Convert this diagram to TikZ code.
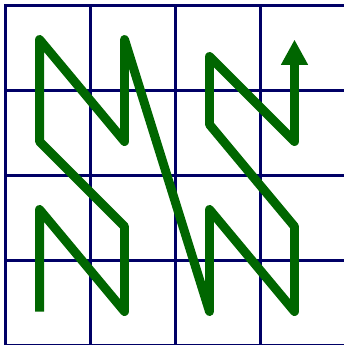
\documentclass[tikz,border=0pt]{standalone}
\usetikzlibrary{arrows.meta}
\begin{document}
\begin{tikzpicture}[x=2cm, y=2cm]

% Define Colors
\colorlet{gridColor}{blue!40!black}
\colorlet{curveColor}{green!40!black}

\useasboundingbox (-0.065,0.006) rectangle (3.971,4.065);

% --- THE GRID (4 x 4 cells) ---
    \draw[line width=2pt, gridColor, line cap=rect, step=2cm] (0,0) grid (4,4);

% --- THE CURVE (one stroke, arrow at the end) ---
    \draw[line width=6pt, curveColor, line join=round,
          -{Triangle[length=17pt, width=17pt]}]
    (0.4,0.4) -- (0.4,1.6) -- (1.4,0.4) -- (1.4,1.4)
    -- (0.4,2.4) -- (0.4,3.6) -- (1.4,2.4) -- (1.4,3.6)
    -- (2.4,0.4) -- (2.4,1.6) -- (3.4,0.4) -- (3.4,1.4)
    -- (2.4,2.6) -- (2.4,3.4) -- (3.4,2.4) -- (3.4,3.6);

\end{tikzpicture}
\end{document}
